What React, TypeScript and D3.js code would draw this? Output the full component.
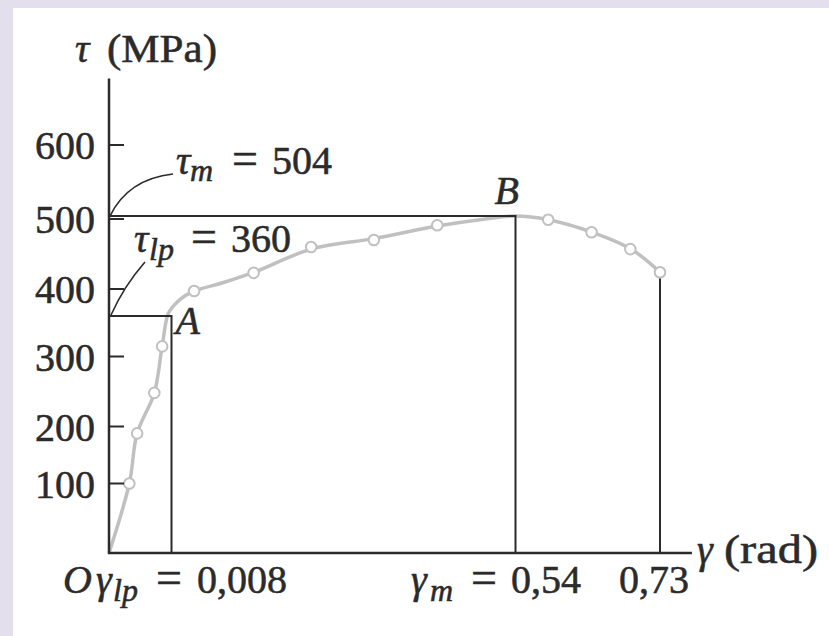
import React from "react";
import * as d3 from "d3";

// Torsion test: shear stress (MPa) against shear strain (rad)
const testStrain = [0.0026, 0.0036, 0.0058, 0.0068, 0.043, 0.135, 0.224, 0.321, 0.419, 0.583, 0.64, 0.691, 0.73];
const testStress = [100, 188, 248, 315, 397, 423, 460, 470, 491, 499, 481, 457, 424];

// Knots of the smooth curve fitted through the test points
const fitStrain = [0, 0.0026, 0.0036, 0.0058, 0.0068, 0.0076, 0.015, 0.029, 0.043, 0.091, 0.136, 0.224, 0.321, 0.419, 0.485, 0.54, 0.583, 0.641, 0.692, 0.73];
const fitStress = [0, 100, 188, 248, 315, 364, 379, 390, 397, 410, 424, 457, 472, 490, 499, 504, 499, 481, 457, 424];

// The axes are drawn out of scale, so each labelled value has its own stop
const strainStops = [0, 0.008, 0.54, 0.73];
const stressStops = [0, 100, 200, 300, 400, 500, 600];
const stressTicks = [100, 200, 300, 400, 500, 600];

// Key values
const propLimitStrain = 0.008;
const propLimitStress = 360;
const ultimateStrain = 0.54;
const ultimateStress = 504;
const fractureStrain = 0.73;

const W = 829;
const H = 636;
const FONT = "'Liberation Serif', 'Times New Roman', serif";
const INK = "#2b2b2b";
const CURVE = "#c0c0c0";
const SUB = 32;
const EQ = 46;

export default function App() {
  const x = d3.scaleLinear().domain(strainStops).range([109, 171.5, 515.5, 660]);
  const y = d3.scaleLinear().domain(stressStops).range([553, 483.5, 426.5, 356.5, 289, 219, 145]);

  const fit = fitStrain.map((g, i) => [g, fitStress[i]] as [number, number]);
  const line = d3
    .line<[number, number]>()
    .x((d) => x(d[0]))
    .y((d) => y(d[1]))
    .curve(d3.curveCatmullRom.alpha(0.5));

  const x0 = x(0);
  const yBase = y(0);
  const xEnd = x(0.772);
  const yTop = y(690);

  const yM = y(ultimateStress);
  const yLp = y(propLimitStress);
  const xLp = x(propLimitStrain);
  const xM = x(ultimateStrain);
  const xF = x(fractureStrain);
  const yF = y(testStress[testStress.length - 1]);

  // leader from the axis to the τm label
  const mEnd: [number, number] = [x0 + 64, yM - 42];
  const mLeader = d3.path();
  mLeader.moveTo(x0 + 1, yM);
  mLeader.quadraticCurveTo(x0 + 19, yM - 37, mEnd[0], mEnd[1]);

  // leader from the axis to the τlp label
  const lpEnd: [number, number] = [x0 + 36, yLp - 54];
  const lpLeader = d3.path();
  lpLeader.moveTo(x0 + 2, yLp - 1);
  lpLeader.quadraticCurveTo(x0 + 15, yLp - 30, lpEnd[0], lpEnd[1]);

  const bottomBase = 593;
  const textWeight = { stroke: INK, strokeWidth: 0.55 };

  return (
    <svg
      width={W}
      height={H}
      viewBox={`0 0 ${W} ${H}`}
      style={{ position: "absolute", left: 0, top: 0, display: "block" }}
      fontFamily={FONT}
    >
      <rect x={0} y={0} width={W} height={H} fill="#e4dfec" />
      <rect x={13} y={8} width={W - 13} height={H - 8} fill="#ffffff" />

      {/* fitted curve */}
      <path d={line(fit) ?? ""} fill="none" stroke={CURVE} strokeWidth={3.5} strokeLinejoin="round" />

      {/* reference lines */}
      <g stroke={INK} strokeWidth={2} fill="none">
        <polyline points={`${x0},${yM} ${xM},${yM} ${xM},${yBase}`} />
        <polyline points={`${x0},${yLp} ${xLp},${yLp} ${xLp},${yBase}`} />
        <line x1={xF} y1={yF + 6} x2={xF} y2={yBase} />
      </g>

      {/* test points */}
      {testStrain.map((g, i) => (
        <circle key={i} cx={x(g)} cy={y(testStress[i])} r={5.3} fill="#ffffff" stroke={CURVE} strokeWidth={2} />
      ))}

      {/* axes */}
      <g stroke={INK} strokeWidth={2.5} fill="none">
        <line x1={x0} y1={yTop} x2={x0} y2={yBase + 1} />
        <line x1={x0 - 1} y1={yBase} x2={xEnd} y2={yBase} />
        {stressTicks.map((t) => (
          <line key={t} x1={x0} y1={y(t)} x2={x0 + 15} y2={y(t)} strokeWidth={2} />
        ))}
      </g>
      <g fontSize={40} fill={INK} textAnchor="end" {...textWeight}>
        {stressTicks.map((t) => (
          <text key={t} x={x0 - 14} y={y(t)} dy="0.35em">
            {t}
          </text>
        ))}
      </g>

      {/* leaders */}
      <path d={mLeader.toString()} fill="none" stroke={INK} strokeWidth={1.6} />
      <path d={lpLeader.toString()} fill="none" stroke={INK} strokeWidth={1.6} />

      <g fill={INK} fontSize={40} {...textWeight}>
        {/* axis titles */}
        <text x={75} y={62}>
          <tspan fontStyle="italic">τ</tspan>
          <tspan x={107} textLength={110} lengthAdjust="spacingAndGlyphs">(MPa)</tspan>
        </text>
        <text x={697} y={563}>
          <tspan fontStyle="italic">γ</tspan>
          <tspan x={724} textLength={94} lengthAdjust="spacingAndGlyphs">(rad)</tspan>
        </text>

        {/* annotations */}
        <text x={mEnd[0] + 3} y={mEnd[1]}>
          <tspan fontStyle="italic">τ</tspan>
          <tspan fontStyle="italic" fontSize={SUB} x={mEnd[0] + 17} dy={7}>m</tspan>
          <tspan x={232} dy={-7} fontSize={EQ}>=</tspan>
          <tspan x={272}>{ultimateStress}</tspan>
        </text>
        <text x={134} y={252}>
          <tspan fontStyle="italic">τ</tspan>
          <tspan fontStyle="italic" fontSize={SUB} x={149} dy={8}>lp</tspan>
          <tspan x={191} dy={-8} fontSize={EQ}>=</tspan>
          <tspan x={231}>{propLimitStress}</tspan>
        </text>
        <text x={xM - 21} y={yM - 12} fontStyle="italic">B</text>
        <text x={xLp + 4} y={yLp + 18} fontStyle="italic">A</text>

        {/* strain labels */}
        <text x={63} y={bottomBase}>
          <tspan fontStyle="italic">O</tspan>
          <tspan x={96} fontStyle="italic">γ</tspan>
          <tspan fontStyle="italic" fontSize={SUB} x={113} dy={8}>lp</tspan>
          <tspan x={156} dy={-8} fontSize={EQ}>=</tspan>
          <tspan x={197}>0,008</tspan>
        </text>
        <text x={411} y={bottomBase}>
          <tspan fontStyle="italic">γ</tspan>
          <tspan fontStyle="italic" fontSize={SUB} x={430} dy={8}>m</tspan>
          <tspan x={471} dy={-8} fontSize={EQ}>=</tspan>
          <tspan x={511}>0,54</tspan>
        </text>
        <text x={619} y={bottomBase}>0,73</text>
      </g>
    </svg>
  );
}
